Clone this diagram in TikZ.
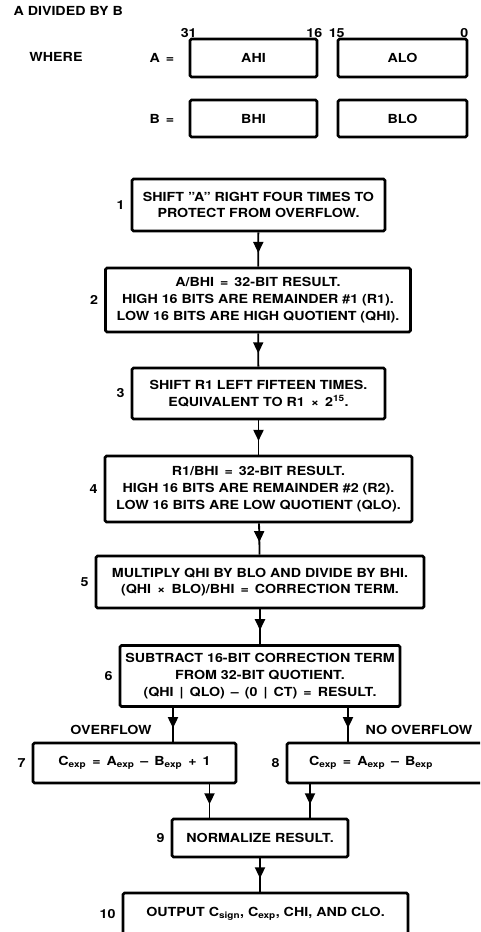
\documentclass[tikz,border=0pt]{standalone}
\usepackage{fontspec}
\setmainfont{TeX Gyre Heros}[FakeStretch=1.14]
\usetikzlibrary{positioning,arrows.meta,decorations.markings}
\begin{document}
\begin{tikzpicture}[x=1pt,y=-1pt,font=\bfseries\fontsize{12.5}{16.7}\selectfont]
        \tikzstyle{stepbox}=[draw=black,line width=2.6pt,rounded corners=1.5pt,inner sep=0pt,align=center]
        \tikzstyle{regbox}=[stepbox]
        \tikzstyle{stepnum}=[inner sep=0pt]
        \tikzstyle{flow}=[draw,line width=1.8pt,postaction={decorate},
          decoration={markings,mark=at position 0.6 with {\arrow{Triangle[width=10pt,length=11pt]}}}]
        \clip (0,0) rectangle (480,932);
        % operands
        \node [anchor=west] (title) at (10,11) {A DIVIDED BY B};
        \node [regbox,minimum width=127,minimum height=38] (ahi) at (253.5,58) {AHI};
        \node [regbox,minimum width=129,minimum height=38] (alo) at (402.5,58) {ALO};
        \node [regbox,minimum width=127,minimum height=37] (bhi) at (253.5,118.5) {BHI};
        \node [regbox,minimum width=129,minimum height=37] (blo) at (402.5,118.5) {BLO};
        \node [left=11pt of ahi] (aeq) {A \,=};
        \node [left=11pt of bhi] (beq) {B \,=};
        \node (where) at (56,57) {WHERE};
        \node [anchor=south] (b31) at ([yshift=-3pt]ahi.north west) {31};
        \node [anchor=south] (b16) at ([xshift=-4pt,yshift=-3pt]ahi.north east) {16};
        \node [anchor=south] (b15) at ([yshift=-3pt]alo.north west) {15};
        \node [anchor=south] (b0) at ([xshift=-4pt,yshift=-3pt]alo.north east) {0};
        % steps
        \node [stepbox,minimum width=253,minimum height=52] (s1) at (258.5,205) {SHIFT ''A'' RIGHT FOUR TIMES TO\\PROTECT FROM OVERFLOW.};
        \node [stepbox,minimum width=305,minimum height=64] (s2) at (258,300) {A/BHI \,=\, 32-BIT RESULT.\\HIGH 16 BITS ARE REMAINDER \#1 (R1).\\LOW 16 BITS ARE HIGH QUOTIENT (QHI).};
        \node [stepbox,minimum width=253,minimum height=51] (s3) at (258.5,393.5) {SHIFT R1 LEFT FIFTEEN TIMES.\\EQUIVALENT TO R1 \,×\, 2\textsuperscript{15}.};
        \node [stepbox,minimum width=307,minimum height=66] (s4) at (258.5,489) {R1/BHI \,=\, 32-BIT RESULT.\\HIGH 16 BITS ARE REMAINDER \#2 (R2).\\LOW 16 BITS ARE LOW QUOTIENT (QLO).};
        \node [stepbox,minimum width=328,minimum height=52] (s5) at (260,582) {MULTIPLY QHI BY BLO AND DIVIDE BY BHI.\\(QHI \,×\, BLO)/BHI \,=\, CORRECTION TERM.};
        \node [stepbox,minimum width=280,minimum height=61] (s6) at (260,676) {SUBTRACT 16-BIT CORRECTION TERM\\FROM 32-BIT QUOTIENT.\\(QHI \,|\, QLO) \,–\, (0 \,|\, CT) \,=\, RESULT.};
        \node [stepbox,minimum width=203,minimum height=40] (s7) at (134.5,763) {C\textsubscript{exp} \,=\, A\textsubscript{exp} \,–\, B\textsubscript{exp} \,+\, 1};
        \node [stepbox,minimum width=196,minimum height=40] (s8) at (385,763) {C\textsubscript{exp} \,=\, A\textsubscript{exp} \,–\, B\textsubscript{exp}\hspace*{28pt}};
        \node [stepbox,minimum width=176,minimum height=38] (s9) at (260,838) {NORMALIZE RESULT.};
        \node [stepbox,minimum width=285,minimum height=42] (s10) at (265.5,914) {OUTPUT C\textsubscript{sign}, C\textsubscript{exp}, CHI, AND CLO.};
        % step numbers
        \foreach \s/\n in {s1/1,s2/2,s3/3,s4/4,s5/5,s6/6,s7/7,s8/8,s9/9,s10/10}
          \node [stepnum,left=6pt of \s] (n\n) {\n};
        \node (ovf) at (111,730) {OVERFLOW};
        \node (noovf) at (419,730) {NO OVERFLOW};
        % connectors
        \path[flow] (s1) -- (s2);
        \path[flow] (s2) -- (s3);
        \path[flow] (s3) -- (s4);
        \path[flow] (s4) -- (s5);
        \path[flow] (s5) -- (s6);
        \path[flow] ([xshift=-87pt]s6.south) -- ([xshift=-87pt]s6.south |- s7.north);
        \path[flow] ([xshift=88pt]s6.south) -- ([xshift=88pt]s6.south |- s8.north);
        \path[flow] ([xshift=75pt]s7.south) -- ([xshift=75pt]s7.south |- s9.north);
        \path[flow] ([xshift=-75pt]s8.south) -- ([xshift=-75pt]s8.south |- s9.north);
        \path[flow] (s9) -- (s9 |- s10.north);
\end{tikzpicture}
\end{document}
